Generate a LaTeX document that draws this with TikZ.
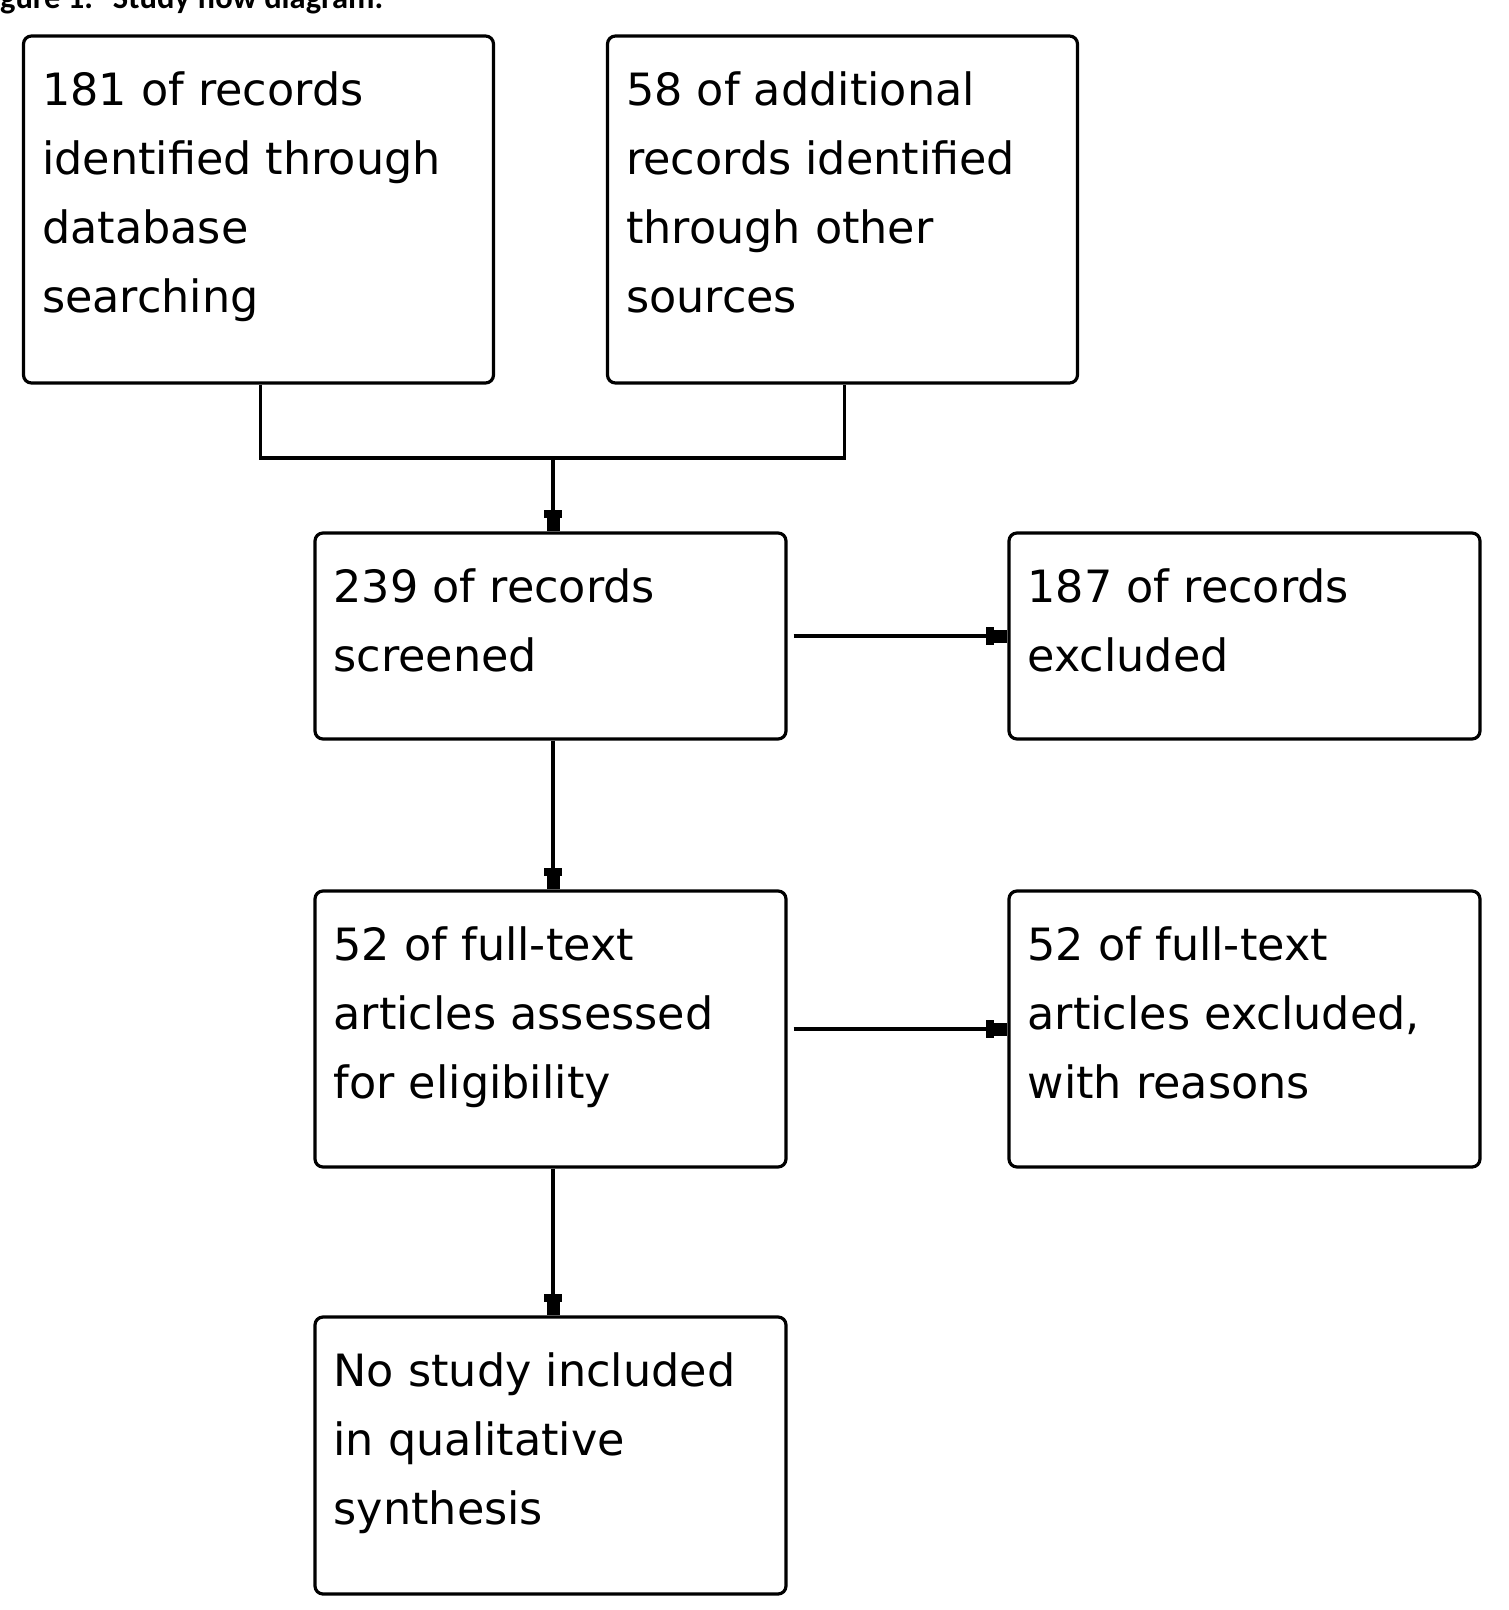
\documentclass[tikz,border=0pt]{standalone}
\usepackage{fontspec}
\setmainfont{DejaVu Sans}
\newfontfamily\capfont{Carlito}
\usetikzlibrary{arrows.meta}
\newcommand\flowtxt[1]{\begin{tabular}[t]{@{}l@{}}#1\end{tabular}}
\begin{document}
\begin{tikzpicture}[x=1pt,y=-1pt,
  flowbox/.style 2 args={draw, line width=3.2pt, rounded corners=8pt, inner sep=0pt,
    minimum width=#1pt, minimum height=#2pt},
  txt/.style={anchor=base west, inner sep=0pt,
    font=\fontsize{44.5}{69}\selectfont},
  conn/.style={line width=3.2pt},
  arr/.style={line width=3.2pt,
    -{Rectangle[length=8pt,width=18pt,sep=0pt]Rectangle[length=13pt,width=13pt,sep=0pt]}}]
\useasboundingbox (0,0) rectangle (1509,1610);
\node[anchor=base west, inner sep=0pt, font=\capfont\bfseries\fontsize{32.5}{39}\selectfont] (cap) at (-23,8) {Figure 1.\hspace{20pt}Study flow diagram.};
\node[flowbox={470}{347}] (b1) at (258.5,209.5) {};
\node[flowbox={470}{347}] (b2) at (842.5,209.5) {};
\node[flowbox={471}{206}] (b3) at (550.5,636) {};
\node[flowbox={471}{206}] (b4) at (1244.5,636) {};
\node[flowbox={471}{276}] (b5) at (550.5,1029) {};
\node[flowbox={471}{276}] (b6) at (1244.5,1029) {};
\node[flowbox={471}{277}] (b7) at (550.5,1455.5) {};
\node[txt] (t1) at ([shift={(20,71.5)}]b1.north west) {\flowtxt{181 of records\\identified through\\database\\searching}};
\node[txt] (t2) at ([shift={(20,71.5)}]b2.north west) {\flowtxt{58 of additional\\records identified\\through other\\sources}};
\node[txt] (t3) at ([shift={(20,71.5)}]b3.north west) {\flowtxt{239 of records\\screened}};
\node[txt] (t4) at ([shift={(20,71.5)}]b4.north west) {\flowtxt{187 of records\\excluded}};
\node[txt] (t5) at ([shift={(20,71.5)}]b5.north west) {\flowtxt{52 of full-text\\articles assessed\\for eligibility}};
\node[txt] (t6) at ([shift={(20,71.5)}]b6.north west) {\flowtxt{52 of full-text\\articles excluded,\\with reasons}};
\node[txt] (t7) at ([shift={(20,71.5)}]b7.north west) {\flowtxt{No study included\\in qualitative\\synthesis}};
\coordinate (j) at (553,458);
\draw[conn] ([xshift=2pt]b1.south) |- (j) -| ([xshift=2pt]b2.south);
\draw[arr] (j) -- (j |- b3.north);
\draw[arr, shorten <=6pt] (b3.east) -- (b4.west);
\draw[arr] (b3.south -| j) -- (b5.north -| j);
\draw[arr, shorten <=6pt] (b5.east) -- (b6.west);
\draw[arr] (b5.south -| j) -- (b7.north -| j);
\end{tikzpicture}
\end{document}
